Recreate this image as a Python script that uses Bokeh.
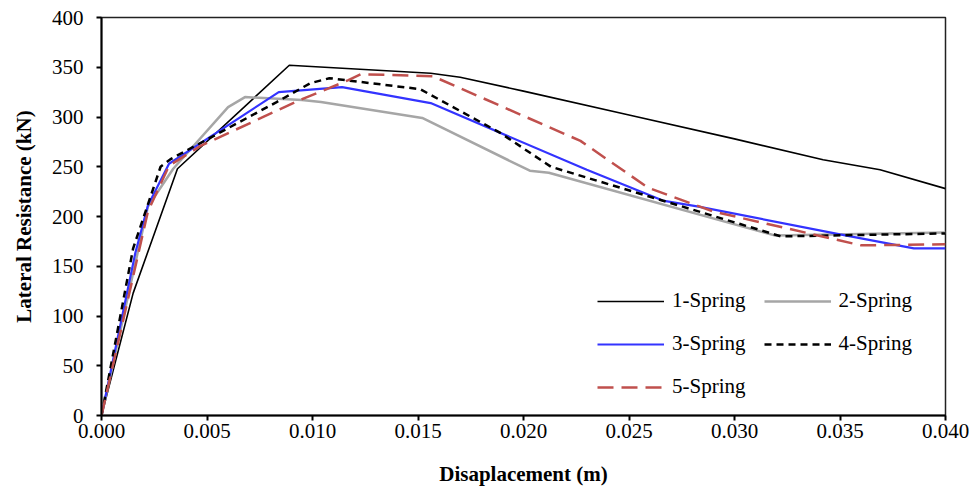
from bokeh.plotting import figure
from bokeh.models import Range1d, SingleIntervalTicker, NumeralTickFormatter, Legend, LegendItem
from bokeh.embed import file_html
from bokeh.resources import INLINE

# ---- data ----
disp_1 = [0, 0.0015, 0.0036, 0.0089, 0.0156, 0.0170, 0.0200, 0.0250, 0.0300, 0.0342, 0.0369, 0.0400]
res_1 = [0, 123, 248, 352, 344, 340, 326, 302, 278, 257, 247, 228]

disp_2 = [0, 0.0022, 0.0034, 0.0060, 0.0068, 0.0095, 0.0104, 0.0152, 0.0203, 0.0212, 0.0319, 0.0400]
res_2 = [0, 210, 248, 310, 320, 317, 315, 299, 246, 244, 181, 184]

disp_3 = [0, 0.0016, 0.0022, 0.0032, 0.0084, 0.0114, 0.0156, 0.0230, 0.0266, 0.0283, 0.0350, 0.0385, 0.0400]
res_3 = [0, 163, 211, 253, 325, 330, 314, 247, 216, 210, 182, 168, 168]

disp_4 = [0, 0.0015, 0.0028, 0.0033, 0.0083, 0.0099, 0.0108, 0.0151, 0.0189, 0.0213, 0.0322, 0.0400]
res_4 = [0, 168, 250, 258, 315, 334, 339, 328, 284, 250, 180, 183]

disp_5 = [0, 0.0022, 0.0032, 0.0047, 0.0094, 0.0117, 0.0123, 0.0157, 0.0227, 0.0259, 0.0290, 0.0360, 0.0400]
res_5 = [0, 205, 251, 271, 317, 337, 343, 341, 276, 229, 205, 171, 172]

series_names = ["1-Spring", "2-Spring", "3-Spring", "4-Spring", "5-Spring"]
x_label = "Disaplacement (m)"
y_label = "Lateral Resistance (kN)"

FONT = "Liberation Serif"

p = figure(width=969, height=488, output_backend="svg", toolbar_location=None,
           x_range=Range1d(0, 0.04), y_range=Range1d(0, 400),
           min_border_left=101, min_border_right=24, min_border_top=17, min_border_bottom=73)

p.background_fill_color = "white"
p.border_fill_color = "white"
p.outline_line_color = "#222222"
p.outline_line_width = 1.5
p.xgrid.visible = False
p.ygrid.visible = False

styles = [
    dict(color="black", line_width=1.6, line_dash="solid"),
    dict(color="#A6A6A6", line_width=2.5, line_dash="solid"),
    dict(color="#3333FF", line_width=2.2, line_dash="solid"),
    dict(color="black", line_width=2.5, line_dash="7 5"),
    dict(color="#C0504D", line_width=2.5, line_dash="16 8"),
]
data = [(disp_1, res_1), (disp_2, res_2), (disp_3, res_3), (disp_4, res_4), (disp_5, res_5)]

renderers = []
for (xs, ys), st in zip(data, styles):
    r = p.line(xs, ys, line_color=st["color"], line_width=st["line_width"], line_dash=st["line_dash"])
    renderers.append(r)

# axes
p.xaxis.ticker = SingleIntervalTicker(interval=0.005)
p.yaxis.ticker = SingleIntervalTicker(interval=50)
p.xaxis.formatter = NumeralTickFormatter(format="0.000")
for ax in (p.xaxis, p.yaxis):
    ax.axis_line_width = 2
    ax.axis_line_color = "black"
    ax.major_tick_line_width = 2
    ax.major_tick_line_color = "black"
    ax.major_tick_out = 5
    ax.major_tick_in = 0
    ax.minor_tick_line_color = None
    ax.major_label_text_font = FONT
    ax.major_label_text_font_size = "21px"
    ax.major_label_text_color = "black"
    ax.axis_label_text_font = FONT
    ax.axis_label_text_font_size = "21px"
    ax.axis_label_text_font_style = "bold"
    ax.axis_label_text_color = "black"

p.xaxis.axis_label = x_label
p.yaxis.axis_label = y_label
p.xaxis.major_label_standoff = 3
p.xaxis.axis_label_standoff = 21
p.yaxis.major_label_standoff = 13
p.yaxis.axis_label_standoff = 13

legend = Legend(items=[LegendItem(label=n, renderers=[r]) for n, r in zip(series_names, renderers)],
                orientation="horizontal", ncols=2,
                location=(496, 16), padding=0, spacing=18,
                glyph_width=67, glyph_height=24, label_height=24, label_standoff=8,
                label_text_font=FONT, label_text_font_size="21px", label_text_color="black",
                border_line_alpha=0, background_fill_alpha=0)
p.add_layout(legend, "center")

open("out.html", "w").write(file_html(p, INLINE))
